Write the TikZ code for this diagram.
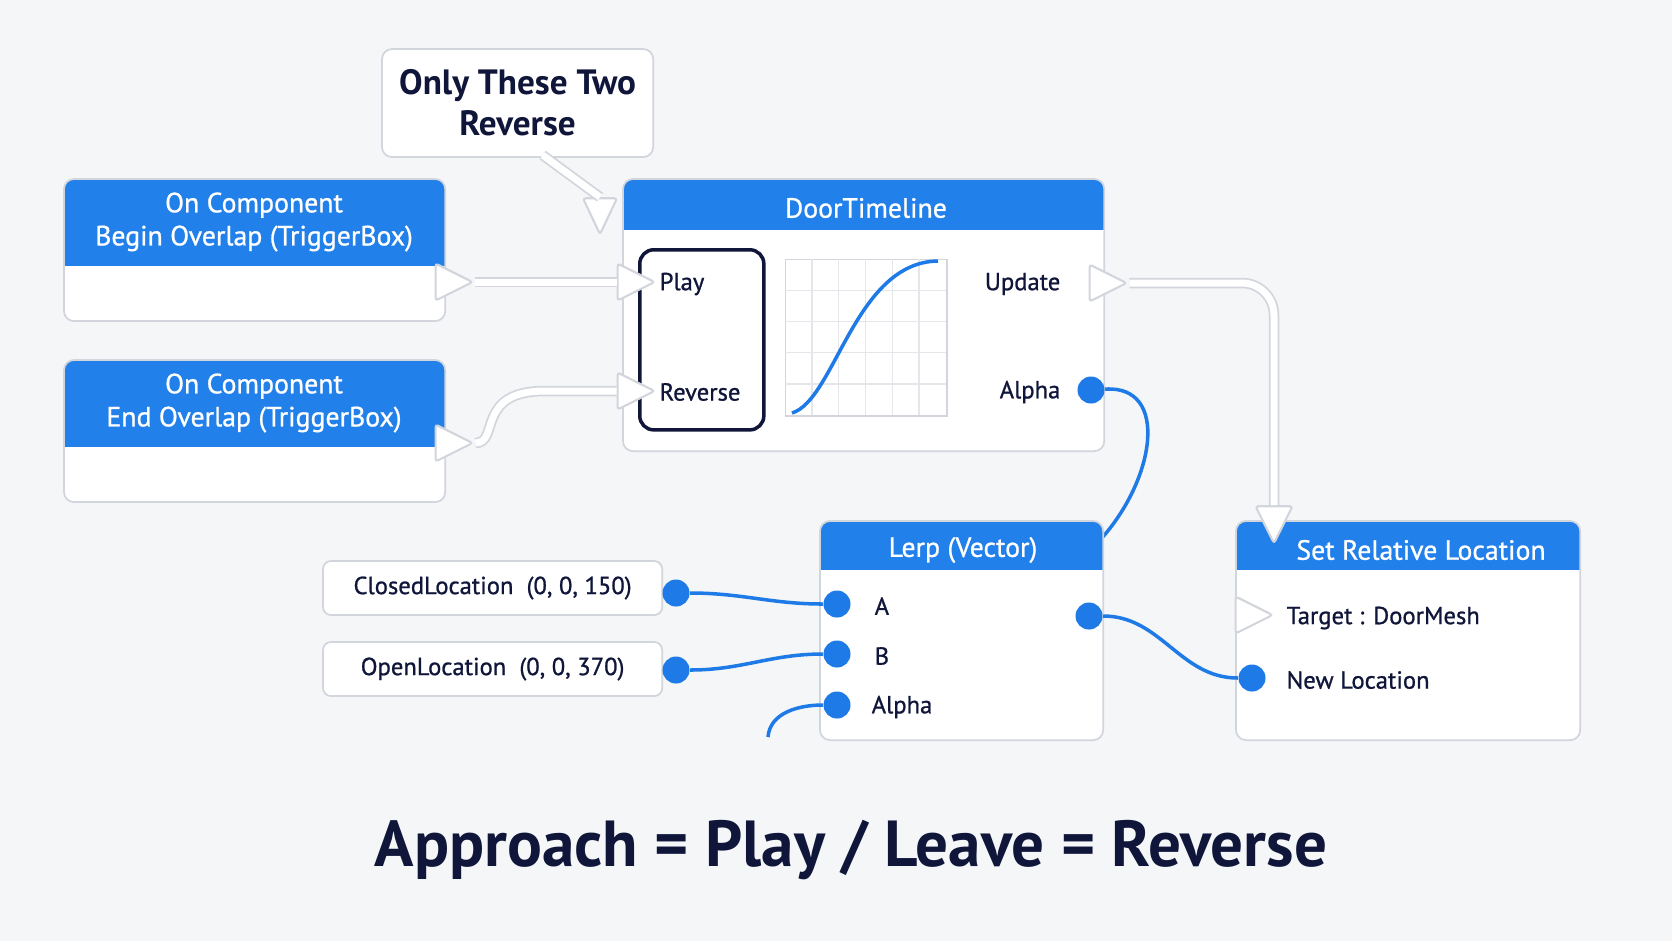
\documentclass[tikz,border=0pt]{standalone}
\usepackage{fontspec}
\setmainfont{PT Sans}
\newfontfamily\medfont{PT Sans}[FakeBold=0.9]
\usetikzlibrary{shapes.geometric}

\definecolor{bgcol}{RGB}{245,246,248}
\definecolor{hdrblue}{RGB}{33,128,234}
\definecolor{pinblue}{RGB}{30,122,230}
\definecolor{ink}{RGB}{16,22,58}
\definecolor{edge}{RGB}{210,213,220}

\tikzset{
  box/.style={draw=edge, line width=0.5pt, fill=white, rounded corners=0.1cm,
    inner sep=0pt, outer sep=0pt, anchor=north west},
  nodebox/.style={box, path picture={\fill[hdrblue, sharp corners]
    (path picture bounding box.north west) rectangle ([yshift=-#1]path picture bounding box.north east);}},
  hdrtext/.style={text=white, align=center, font=\medfont\fontsize{7.9}{9.4}\selectfont},
  pintext/.style={text=ink, inner sep=0pt, font=\medfont\fontsize{7}{9}\selectfont},
  execpin/.style={isosceles triangle, isosceles triangle stretches, minimum width=0.37cm,
    minimum height=0.37cm, inner sep=0pt, draw=edge, line width=0.6pt, fill=white, rounded corners=0.8pt},
  datapin/.style={circle, fill=pinblue, minimum size=0.27cm, inner sep=0pt},
  execwire/.style={draw=edge, line width=0.5pt, double=white, double distance=0.07cm},
  datawire/.style={draw=pinblue, line width=1pt}
}

\begin{document}
\begin{tikzpicture}[x=0.01cm, y=-0.01cm]
\useasboundingbox[fill=bgcol] (0,0) rectangle (1672,941);

% note
\node[box, minimum width=2.71cm, minimum height=1.08cm] (note) at (382,49) {};
\node[text=ink, align=center, font=\bfseries\fontsize{10}{11.7}\selectfont] (notetxt) at (note.center) {Only These Two\\Reverse};
\node[execpin, minimum width=0.34cm, minimum height=0.36cm, shape border rotate=-54, anchor=apex] (notetip) at (600,237) {};
\draw[execwire] ([xshift=0.25cm, yshift=0.02cm]note.south) -- (notetip.lower side);

% events
\node[nodebox=0.87cm, minimum width=3.81cm, minimum height=1.42cm] (bo) at (64,179) {};
\node[hdrtext] (botxt) at (254,222) {On Component\\Begin Overlap (TriggerBox)};
\node[execpin] (boout) at (447,282) {};
\node[nodebox=0.87cm, minimum width=3.81cm, minimum height=1.42cm] (eo) at (64,360) {};
\node[hdrtext] (eotxt) at (254,403) {On Component\\End Overlap (TriggerBox)};
\node[execpin] (eoout) at (447,443) {};

% timeline
\node[nodebox=0.51cm, minimum width=4.81cm, minimum height=2.72cm] (tl) at (623,179) {};
\node[hdrtext] (tltxt) at (866,208) {DoorTimeline};
\node[draw=ink, line width=1pt, rounded corners=0.14cm, minimum width=1.24cm, minimum height=1.8cm,
  inner sep=0pt, anchor=north west] (tlin) at (638,248) {};
\node[draw=edge, fill=white, minimum width=1.61cm, minimum height=1.56cm, inner sep=0pt,
  anchor=north west] (curve) at (785,259) {};
\foreach \gx in {1,...,5}
  \draw[edge!60] (785+\gx*26.8,259) -- ++(0,156);
\foreach \gy in {1,...,4}
  \draw[edge!60] (785,259+\gy*31.2) -- ++(161,0);
\draw[pinblue, line width=1pt] (792,413) .. controls (835,400) and (855,262) .. (938,261);
\node[execpin] (tlplay) at (629,282) {};
\node[execpin] (tlrev) at (629,391) {};
\node[pintext, anchor=west] (playtxt) at (659,284) {Play};
\node[pintext, anchor=west] (revtxt) at (659,392) {Reverse};
\node[pintext, anchor=east] (updtxt) at (1061,284) {Update};
\node[pintext, anchor=east] (alphatxt) at (1061,392) {Alpha};
\node[execpin] (tlupd) at (1101,283) {};
\node[datapin] (tlalpha) at (1091,390) {};
\coordinate (alphaend) at (1100,540);
\draw[datawire] (tlalpha) .. controls (1170,385) and (1155,480) .. (alphaend);

% lerp
\node[nodebox=0.49cm, minimum width=2.83cm, minimum height=2.19cm] (lerp) at (820,521) {};
\node[hdrtext] (lerptxt) at (963,550) {Lerp (Vector)};
\node[datapin] (la) at (837,604) {};
\node[datapin] (lb) at (837,654) {};
\node[datapin] (lal) at (837,705) {};
\node[datapin] (lout) at (1089,616) {};
\node[pintext, anchor=west] (latxt) at (874,606) {A};
\node[pintext, anchor=west] (lbtxt) at (874,656) {B};
\node[pintext, anchor=west] (laltxt) at (871,707) {Alpha};

% set relative location
\node[nodebox=0.49cm, minimum width=3.44cm, minimum height=2.19cm] (srl) at (1236,521) {};
\node[hdrtext] (srltxt) at (1421,550) {Set Relative Location};
\node[execpin] (srltgt) at (1247,615) {};
\node[datapin] (srlnew) at (1252,678) {};
\node[pintext, anchor=west] (tgttxt) at (1286,618) {Target : DoorMesh};
\node[pintext, anchor=west] (newtxt) at (1286,680) {New Location};
\node[execpin, shape border rotate=-90, anchor=apex] (srlin) at (1274,546) {};

% variables
\node[box, rounded corners=0.08cm, minimum width=3.39cm, minimum height=0.54cm] (closed) at (323,561) {};
\node[pintext] (closedtxt) at (closed.center) {ClosedLocation\ \ (0, 0, 150)};
\node[datapin] (closedpin) at (676,593) {};
\node[box, rounded corners=0.08cm, minimum width=3.39cm, minimum height=0.54cm] (open) at (323,642) {};
\node[pintext] (opentxt) at (open.center) {OpenLocation\ \ (0, 0, 370)};
\node[datapin] (openpin) at (676,670) {};

% wires
\draw[execwire] (boout.apex) -- (tlplay.lower side);
\draw[execwire] (eoout.apex) .. controls (500,443) and (475,391) .. (545,391) -- (tlrev.lower side);
\draw[execwire, rounded corners=0.32cm] (tlupd.apex) -| (srlin.lower side);
\draw[datawire] (closedpin) to[out=0, in=180] (la);
\draw[datawire] (openpin) to[out=0, in=180] (lb);
\draw[datawire] (lout) to[out=0, in=180] (srlnew);
\coordinate (lerpfeed) at (768,737);
\draw[datawire] (lerpfeed) .. controls (770,712) and (800,705) .. (lal);

\node[text=ink, font=\bfseries\fontsize{18.5}{22}\selectfont] (title) at (851,850) {Approach = Play / Leave = Reverse};
\end{tikzpicture}
\end{document}
